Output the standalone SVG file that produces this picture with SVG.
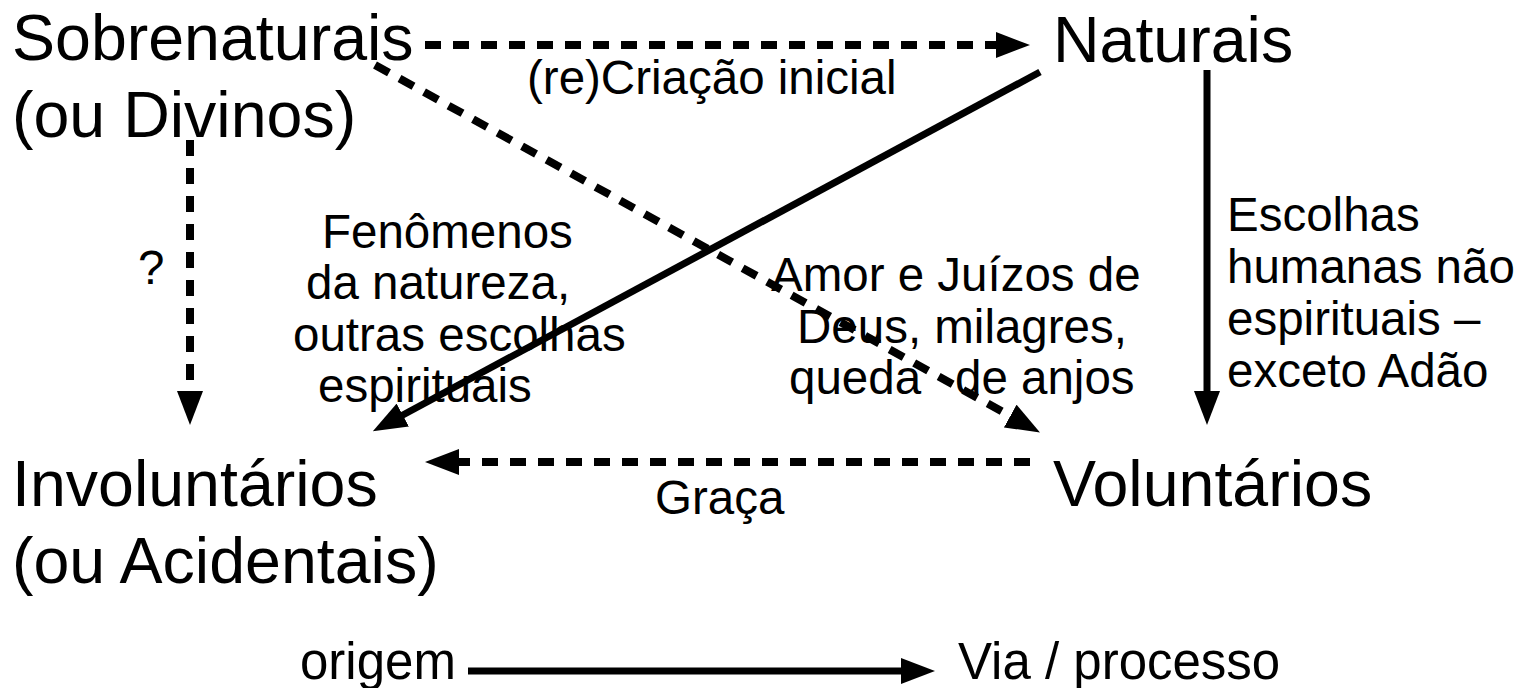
<svg xmlns="http://www.w3.org/2000/svg" width="1525" height="688" viewBox="0 0 1525 688">
<defs>
<marker id="ah" markerUnits="userSpaceOnUse" markerWidth="34" markerHeight="26" refX="2" refY="13" orient="auto">
<path d="M0,0 L34,13 L0,26 z" fill="#000"/>
</marker>
<style>
.big{font-family:"Liberation Sans",Arial,sans-serif;font-size:64.5px;fill:#000}
.mid{font-family:"Liberation Sans",Arial,sans-serif;font-size:47.5px;fill:#000}
.leg{font-family:"Liberation Sans",Arial,sans-serif;font-size:51px;fill:#000}
.solid{stroke:#000;stroke-width:7;fill:none}
.dash{stroke:#000;stroke-width:8;fill:none;stroke-dasharray:16 12}
</style>
</defs>
<rect width="1525" height="688" fill="#fff"/>
<g id="connectors">
<line class="dash" x1="425" y1="45" x2="998" y2="45" marker-end="url(#ah)"/>
<line class="dash" x1="375" y1="65" x2="1012" y2="417" marker-end="url(#ah)"/>
<line class="solid" x1="1040" y1="72" x2="401" y2="416" marker-end="url(#ah)"/>
<line class="solid" x1="1207" y1="70" x2="1207" y2="393" marker-end="url(#ah)"/>
<line class="dash" x1="190" y1="140" x2="190" y2="393" marker-end="url(#ah)"/>
<line class="dash" x1="1030" y1="462" x2="457" y2="462" marker-end="url(#ah)"/>
<line class="solid" x1="468" y1="671" x2="903" y2="671" stroke-width="8" marker-end="url(#ah)"/>
</g>
<g id="sobrenaturais"><text class="big" x="12" y="60">Sobrenaturais</text><text class="big" x="12" y="137">(ou Divinos)</text></g>
<g id="naturais"><text class="big" x="1053" y="62">Naturais</text></g>
<g id="involuntarios"><text class="big" x="12" y="506">Involuntários</text><text class="big" x="12" y="583">(ou Acidentais)</text></g>
<g id="voluntarios"><text class="big" x="1053" y="506">Voluntários</text></g>
<g id="labels">
<text class="mid" x="527" y="94">(re)Criação inicial</text>
<text class="mid" x="138" y="284">?</text>
<text class="mid" x="322" y="248">Fenômenos</text>
<text class="mid" x="306" y="299">da natureza,</text>
<text class="mid" x="293" y="351">outras escolhas</text>
<text class="mid" x="318" y="402">espirituais</text>
<text class="mid" x="771" y="291">Amor e Juízos de</text>
<text class="mid" x="797" y="343">Deus, milagres,</text>
<text class="mid" y="394"><tspan x="789">queda</tspan><tspan x="955">de anjos</tspan></text>
<text class="mid" x="1227" y="231">Escolhas</text>
<text class="mid" x="1227" y="283">humanas não</text>
<text class="mid" x="1227" y="335">espirituais –</text>
<text class="mid" x="1227" y="387">exceto Adão</text>
<text class="mid" x="655" y="514">Graça</text>
<text class="leg" x="300" y="679">origem</text>
<text class="leg" x="958" y="679">Via / processo</text>
</g>
</svg>
